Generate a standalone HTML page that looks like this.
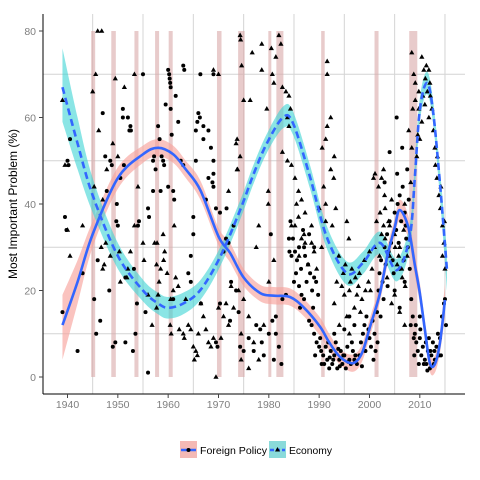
<!DOCTYPE html>
<html><head><meta charset="utf-8"><style>
body{margin:0;background:#fff;}
svg{display:block;font-family:"Liberation Sans",sans-serif;}
</style></head><body>
<svg id="chart" width="480" height="480"></svg>
<script>
const recessions=[[1944.7,1945.5],[1948.7,1949.6],[1953.3,1954.1],[1957.4,1958.2],[1960.1,1960.9],[1969.7,1970.6],[1973.9,1975.2],[1979.9,1980.5],[1981.5,1982.9],[1990.4,1991.1],[2001.0,2001.8],[2007.9,2009.5]];
const xTicks=[1940,1950,1960,1970,1980,1990,2000,2010];
const yTicks=[0,20,40,60,80];
const xGrid=[1945,1955,1965,1975,1985,1995,2005,2015];
const yGrid=[10,30,50,70];
const fpFitYears=[1939,1942,1945,1950,1955,1958,1961,1963.5,1966.4,1970,1972.3,1975,1978.3,1981,1984.2,1987,1990.2,1992,1994.2,1996.7,1998.5,2000.1,2002,2003.5,2005,2006,2007.7,2009,2010,2011,2012,2013,2014,2015];
const fpFit=[12,22,33,46,51.5,53,51.5,48,43.2,32.5,28.7,23,19.4,18.8,18.5,16,11.6,8,4.6,3.2,5.5,11.6,19,27.7,34.5,38.6,34.7,26,19.4,11,3.2,3,7.9,17.8];
const fpLo=[4,17,30,43.5,49.5,51,49.5,46,41,30.5,26.5,21,17.5,16.8,16.5,14,9.5,6,2.8,1.2,3.5,9.5,17,25.5,32.5,36,32,23.5,17,8.8,1.2,1,5.5,14];
const fpHi=[19,27,36,48.5,53.5,55,53.5,50,45.4,34.5,31,25,21.3,20.8,20.5,18,13.7,10,6.4,5.2,7.5,13.7,21,29.9,36.5,41,37.4,28.5,21.8,13.2,5.2,5,10.3,21.6];
const ecFitYears=[1939,1942,1945,1950,1955,1958,1960,1963,1966.4,1970.3,1974.3,1977,1979.6,1982.8,1984.8,1988.2,1991.5,1995.5,1998.7,2002.1,2005.4,2008,2009,2010,2011.4,2012.6,2014,2015.4];
const ecFit=[67,54,42,28,20,17,16,17,20.1,27.7,38.6,47,54,60,58.7,46.2,32.4,24,26.4,31,24.7,32.4,46,61.7,68,61.7,44.8,24.7];
const ecLo=[59,48,38,25,17.5,14.5,13.5,14.5,17.8,25.5,36.4,44.8,51.8,57.5,56,43.5,29.8,21.3,23.8,28.4,22.1,29.6,43,59,65.4,59,41.6,20];
const ecHi=[76,60,46,31,22.5,19.5,18.5,19.5,22.4,29.9,40.8,49.2,56.2,62.5,61.4,48.9,35,26.7,29,33.6,27.3,35.2,49,64.4,70.6,64.4,48,29.4];
const fpPts=[[1939,15],[1940,50],[1940.2,49],[1940.5,55],[1939.5,37],[1939.8,34],[1942,6],[1943,24],[1945.3,18],[1945.7,10],[1946.5,13],[1946,27],[1947,61],[1947.5,51],[1947.8,43],[1948.3,20],[1948.5,50],[1948.8,49],[1949,7],[1949.5,8],[1949.7,36],[1949.8,40],[1950,35],[1950.5,46],[1951,62],[1951,60],[1951.2,49],[1951.5,23],[1951.5,8],[1952,60],[1952.3,57],[1952.5,58],[1952.6,57],[1953,6],[1953.2,25],[1953.5,10],[1953.8,17],[1954,35],[1954.2,36],[1955,70],[1955.5,15],[1956,39],[1956.2,37],[1956,1],[1957,43],[1957,50],[1957.2,51],[1957.5,48],[1958,58],[1958.3,55],[1958.5,43],[1958.7,51],[1959,50],[1959.2,49],[1959.5,63],[1960,71],[1960.2,70],[1960.3,69],[1960.4,68],[1960.5,67],[1960.5,62],[1960.7,56],[1960,44],[1961,43],[1961.2,41],[1961,18],[1961.5,65],[1962,59],[1962.5,50],[1963,72],[1963.2,71],[1963,49],[1964,24],[1964.5,22],[1964.5,28],[1965,33],[1965,37],[1965.5,57],[1965.5,50],[1965.8,59],[1966,61],[1966.3,60],[1966.5,17],[1967,55],[1967,58],[1967.5,41],[1968,46],[1968,57],[1968.5,53],[1968.8,45],[1969,50],[1969,44],[1969.5,39],[1969.5,8],[1969.8,7],[1966.4,70],[1969,70],[1969,47],[1970.3,38],[1971.6,39],[1970.3,17],[1972.3,13],[1974.3,7],[1975,6],[1977,6],[1978.6,8],[1978.3,11],[1980.4,33],[1980.7,13],[1981.4,14],[1981.4,10],[1982,7],[1982.7,18],[1983.4,19],[1984,32],[1984.1,29],[1984.5,28],[1985.4,24],[1971,29],[1971.5,32],[1972,31],[1972.5,22],[1973,35],[1973.5,20],[1974,15],[1976,9],[1977.5,12],[1979,5],[1980,10],[1981,4],[1982.5,3],[1984.3,36],[1984.8,32],[1985.2,29],[1985.6,27],[1986,30],[1986.4,25],[1986.8,34],[1987.2,28],[1987.5,22],[1987.8,26],[1988.2,24],[1988.6,20],[1989,23],[1989.4,22],[1989.8,19],[1985,22],[1986,21],[1986.5,19],[1987,30],[1988,33],[1989,30],[1988,13],[1988.5,12],[1989,10],[1989.5,8],[1990,7],[1990.4,6],[1990.8,5],[1991,3],[1991.3,7],[1991.6,4],[1992,2],[1992.3,6],[1992.6,3],[1993,5],[1993.3,8],[1993.6,2],[1994,4],[1994.3,6],[1994.6,3],[1995,5],[1995.3,2],[1995.6,7],[1996,4],[1996.3,3],[1996.7,6],[1997,4],[1997.5,3],[1998,5],[1998.3,8],[1998.7,10],[1999,12],[1999.4,14],[1999.8,11],[2000,9],[2000.3,7],[2000.6,13],[2001,10],[2001.2,6],[2001.5,15],[1993,10],[1995,11],[1997,12],[1996,14],[1990.5,3],[1992.8,4],[1994.8,5],[1991.8,8],[1992.1,4.5],[1993.8,6.5],[1994.1,2.5],[1995.8,3.5],[1996.5,8],[1997.2,5],[1998.5,2.5],[1999.2,6],[2000.8,4],[2001.6,8],[1989.2,5],[1990.2,9],[1988.8,16],[1987,18],[1986.2,16],[2001.8,20],[2002,24],[2002.3,27],[2002.6,22],[2003,30],[2003.2,26],[2003.5,33],[2003.8,29],[2004,36],[2004.3,31],[2004.6,27],[2005,38],[2005.3,34],[2005.6,40],[2006,42],[2006.3,36],[2006.6,44],[2007,38],[2007.3,32],[2007.6,30],[2005,20],[2006,25],[2007,22],[2004,52],[2003,45],[2006.5,53],[2005.5,47],[2002.8,18],[2003.6,21],[2004.8,24],[2005.8,31],[2006.8,27],[2007.2,35],[2007.8,41],[2002.2,14],[2008,25],[2008.3,18],[2008.6,14],[2009,10],[2009.3,8],[2009.6,6],[2010,9],[2010.3,5],[2010.6,7],[2011,4],[2011.3,3],[2011.6,6],[2012,2],[2012.3,5],[2012.6,8],[2013,4],[2013.3,7],[2013.6,10],[2014,9],[2014.4,14],[2014.8,17],[2015,18],[2015.2,12],[2005.4,60],[2007.5,48],[2006,16],[2010,14],[2008.8,9],[2009.8,3],[2011.8,9],[2012.8,3],[2008.2,12],[2008.9,5],[2009.2,12],[2010.1,11],[2010.8,3],[2011.2,8],[2012.1,6],[2012.9,6],[2013.8,5],[2014.2,5],[2011.5,1.5]];
const ecPts=[[1939,64],[1939.5,49],[1940,34],[1940.5,28],[1943,35],[1945,66],[1945.3,44],[1945.6,70],[1946,80],[1946.8,80],[1946.2,57],[1947,41],[1946.7,30],[1947,25],[1947.3,26],[1947.6,31],[1947.8,48],[1948.5,28],[1949,54],[1949.5,69],[1950.3,29],[1950.5,22],[1950,51],[1951.3,67],[1951.8,23],[1952.5,29],[1952,25],[1953.3,70],[1953.3,35],[1954,44],[1955,31],[1955.2,27],[1956,19],[1956.8,12],[1957.3,31],[1957.8,31],[1957.7,26],[1958.2,22],[1958,19],[1957.7,16],[1958.5,25],[1959,33],[1959.3,29],[1959.1,27],[1959.8,24],[1960.5,18],[1960.4,12],[1960.6,10],[1961,20],[1961.2,35],[1961.5,23],[1962,21],[1962.2,11],[1963,10],[1963.5,18],[1963.2,9],[1964,12],[1964.5,11],[1965,7],[1965.5,6],[1965.8,5],[1965.2,4],[1966,10],[1967,14],[1966.5,17],[1968,8],[1968.5,7],[1969,9],[1967.5,11],[1969.5,0],[1970,70],[1970,16],[1970.5,9],[1971,14],[1971.5,17],[1972,12],[1972,43],[1972.5,21],[1973,16],[1973.5,54],[1973.8,48],[1974,20],[1974.5,10],[1969,71],[1974.3,79],[1974.4,78],[1974.6,72],[1975,64],[1976.3,64],[1976.7,75],[1973.7,55],[1974.3,51],[1973.7,48],[1978.6,71],[1978.6,77],[1979.6,62],[1979.9,43],[1979.9,40],[1980.5,76],[1980.7,70],[1981,68],[1981.4,74],[1982,79],[1982.4,77],[1982.7,67],[1983.4,66],[1984,65],[1984.3,62],[1983.7,60],[1984,58],[1982.7,52],[1983.7,50],[1984.5,49],[1985.2,46],[1985.9,43],[1986.5,41],[1985.5,40],[1987.2,38],[1985.9,37],[1985.2,35],[1986.5,32],[1984.5,35],[1987.2,31],[1988.5,35],[1988.5,31],[1987.8,26],[1990,39],[1990.6,53],[1991.6,73],[1991.6,70],[1992.3,60],[1991.6,58],[1991.3,55],[1993,51],[1992.3,48],[1992.9,46],[1990.9,44],[1991.3,40],[1993.3,39],[1991.3,36],[1992.6,35],[1995.5,36],[1995.9,32],[1993.9,28],[1995.2,26],[1996.5,25],[1994.5,21],[1997.2,23],[1997.8,21],[1999.2,20],[1998.5,18],[1999.8,22],[2000.5,25],[2000.8,46],[2001.1,47],[2001.8,44],[2002.4,46],[2002.8,48],[2003.1,39],[2002.1,38],[2001.4,36],[2002.4,33],[2003.1,32],[2003.8,36],[2004.4,41],[2005.1,30],[2005.8,28],[2006.4,25],[2007.1,21],[2004.4,17],[2007.8,57],[2008.4,53],[2009.4,51],[2008.4,75],[2008.8,70],[2009.1,68],[2009.8,66],[2010.4,74],[2010.8,71],[2011.1,69],[2011.5,66],[2011.8,71],[2012.1,65],[2012.4,62],[2011.8,60],[2013.1,49],[2013.4,46],[2013.8,42],[2014.1,39],[2014.5,35],[2014.8,31],[2009.8,62],[2010.4,59],[2009.1,64],[1975,18],[1976,14],[1977,8],[1978,4],[1974.5,4],[1976,2],[1979,12],[1994,12],[1996,10],[1997,16],[1995,19],[1993,17],[2005,19],[2006,15],[2007,12],[2006.5,23],[1986,28],[1987,33],[1989,29],[1989.5,25],[1990.5,30],[1993.5,22],[1996,20],[1998,24],[1999,27],[2000,29],[2003,42],[2004,35],[2005,33],[2006,30],[2007,40],[2003.5,23],[2002,28],[2010,55],[2011,63],[2012.7,57],[2013,53],[2014.5,28],[2015,25],[1977.5,30],[1978,35],[1980,22],[1981,27],[1994.8,24],[1996.2,22],[1997.5,19],[1998.2,15],[1995.5,14],[2000.2,20],[2001,30],[2002.8,35],[2004,28],[2005.5,26],[2006.8,34],[2007.5,28],[2008.2,45],[2008.6,62],[2009.6,56],[2010.6,65],[2011.3,72],[2012,68],[2013.5,51],[2014.2,44],[2014.9,36]];

const NS='http://www.w3.org/2000/svg';
const svg=document.getElementById('chart');
const L=43,R=465,T=14,B=394;
function x(yr){return 67.5+(yr-1940)*5.033;}
function y(v){return 377-v*4.325;}
function mk(tag,attrs,parent){const e=document.createElementNS(NS,tag);for(const k in attrs)e.setAttribute(k,attrs[k]);(parent||svg).appendChild(e);return e;}
function smooth(pts,start){let d=start?'M'+pts[0][0]+','+pts[0][1]:'L'+pts[0][0]+','+pts[0][1];
for(let i=0;i<pts.length-1;i++){const p0=pts[Math.max(0,i-1)],p1=pts[i],p2=pts[i+1],p3=pts[Math.min(pts.length-1,i+2)];
const c1=[p1[0]+(p2[0]-p0[0])/6,p1[1]+(p2[1]-p0[1])/6],c2=[p2[0]-(p3[0]-p1[0])/6,p2[1]-(p3[1]-p1[1])/6];
d+='C'+c1.join(',')+' '+c2.join(',')+' '+p2.join(',');}return d;}

const grid=mk('g',{});


xGrid.forEach(g=>mk('line',{x1:x(g),x2:x(g),y1:T,y2:B,stroke:'#d4d4d4','stroke-width':1},grid));
yGrid.forEach(g=>mk('line',{x1:L,x2:R,y1:y(g),y2:y(g),stroke:'#d4d4d4','stroke-width':1},grid));

const rg=mk('g',{});


recessions.forEach(r=>{const e=mk('rect',{x:x(r[0]),y:y(80),width:Math.max(3,x(r[1])-x(r[0])),height:y(0)-y(80),fill:'#d9a8a8','fill-opacity':0.6},rg);

});

function bandPath(ys,lo,hi){const top=ys.map((t,i)=>[x(t),y(hi[i])]);const bot=ys.map((t,i)=>[x(t),y(lo[i])]).reverse();return smooth(top,true)+smooth(bot,false)+'Z';}
function linePath(ys,v){return smooth(ys.map((t,i)=>[x(t),y(v[i])]),true);}
const b1=mk('path',{d:bandPath(fpFitYears,fpLo,fpHi),fill:'#f8a39c','fill-opacity':0.65});


const b2=mk('path',{d:bandPath(ecFitYears,ecLo,ecHi),fill:'#3cd3d3','fill-opacity':0.6});



const pg=mk('g',{});


fpPts.forEach(p=>{const c=mk('circle',{cx:x(p[0]),cy:y(p[1]),r:2,fill:'#000'},pg);

});
const eg=mk('g',{});


ecPts.forEach(p=>{const cx=x(p[0]),cy=y(p[1]);const t=mk('polygon',{points:`${cx},${cy-2.8} ${cx-2.6},${cy+1.8} ${cx+2.6},${cy+1.8}`,fill:'#000'},eg);

});

const l1=mk('path',{d:linePath(fpFitYears,fpFit),fill:'none',stroke:'#3366ff','stroke-width':2.6,'stroke-linejoin':'round'});


const l2=mk('path',{d:linePath(ecFitYears,ecFit),fill:'none',stroke:'#3366ff','stroke-width':2.6,'stroke-dasharray':'7,4'});



const ax=mk('g',{});


mk('line',{x1:L,x2:L,y1:T,y2:B,stroke:'#000','stroke-width':1},ax);
mk('line',{x1:L,x2:R,y1:B,y2:B,stroke:'#000','stroke-width':1},ax);
xTicks.forEach(t=>{mk('line',{x1:x(t),x2:x(t),y1:B,y2:B+4,stroke:'#444'},ax);
const tx=mk('text',{x:x(t),y:B+14,'text-anchor':'middle','font-size':10.5,fill:'#7f7f7f'},ax);tx.textContent=t;

});
yTicks.forEach(t=>{mk('line',{x1:L-4,x2:L,y1:y(t),y2:y(t),stroke:'#444'},ax);
const tx=mk('text',{x:L-7,y:y(t)+4,'text-anchor':'end','font-size':10.5,fill:'#7f7f7f'},ax);tx.textContent=t;

});
const yt=mk('text',{x:0,y:0,transform:'translate(17,204) rotate(-90)','text-anchor':'middle','font-size':12,fill:'#000'});
yt.textContent='Most Important Problem (%)';



function legend(x0,fill,label,tri,name,tl){const g=mk('g',{});


mk('rect',{x:x0,y:441,width:17,height:17,fill:fill},g);
mk('line',{x1:x0+1,x2:x0+16,y1:450,y2:450,stroke:'#3366ff','stroke-width':2.5,'stroke-dasharray':tri?'4,2':''},g);
if(tri)mk('polygon',{points:`${x0+8.5},${447} ${x0+6},${451.5} ${x0+11},${451.5}`,fill:'#000'},g);
else mk('circle',{cx:x0+8.5,cy:450,r:2,fill:'#000'},g);
const t=mk('text',{x:x0+20,y:454,'font-size':10.5,fill:'#000',textLength:tl,lengthAdjust:'spacingAndGlyphs'},g);t.textContent=label;}
legend(180,'#f4b9b5','Foreign Policy',false,'legend-foreign-policy',67);
legend(269,'#8adada','Economy',true,'legend-economy',43);
</script>
</body></html>
